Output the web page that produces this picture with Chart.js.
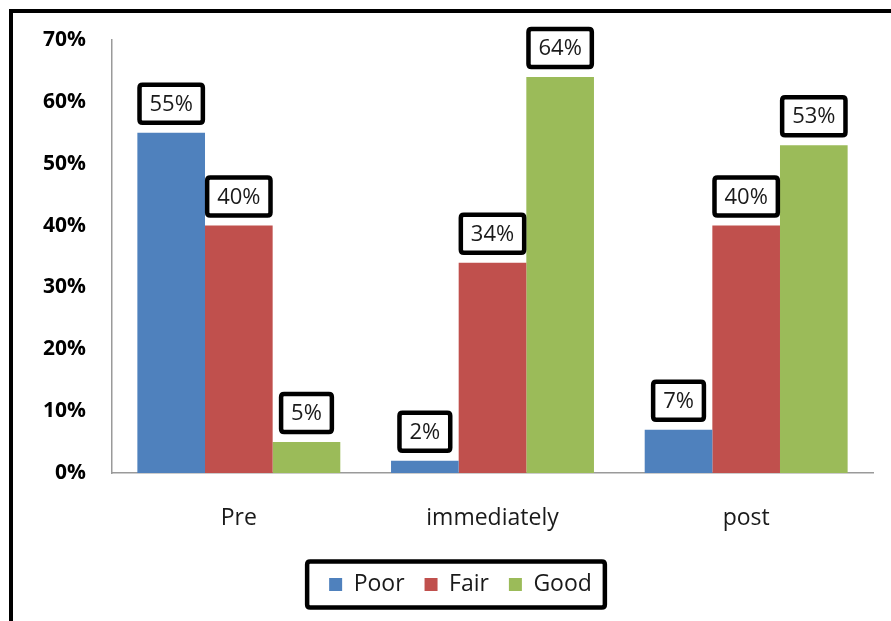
<!DOCTYPE html>
<html>
<head>
<meta charset="utf-8">
<script src="https://cdn.jsdelivr.net/npm/chart.js@4/dist/chart.umd.min.js"></script>
<style>
  html, body { margin: 0; padding: 0; background: #fff; }
  #wrap { width: 891px; height: 621px; position: relative; }
</style>
</head>
<body>
<div id="wrap"><canvas id="c" width="891" height="621"></canvas></div>
<script>
// Share of ratings per assessment time
const categories = ['Pre', 'immediately', 'post'];
const poor = [55, 2, 7];
const fair = [40, 34, 40];
const good = [5, 64, 53];
const seriesNames = ['Poor', 'Fair', 'Good'];
const yTicks = [0, 10, 20, 30, 40, 50, 60, 70];

const colors = ['#4F81BD', '#C0504D', '#9BBB59'];
const FONT = '"Open Sans", "DejaVu Sans", sans-serif';

function roundRect(ctx, x, y, w, h, r) {
  ctx.beginPath();
  ctx.moveTo(x + r, y);
  ctx.lineTo(x + w - r, y);
  ctx.quadraticCurveTo(x + w, y, x + w, y + r);
  ctx.lineTo(x + w, y + h - r);
  ctx.quadraticCurveTo(x + w, y + h, x + w - r, y + h);
  ctx.lineTo(x + r, y + h);
  ctx.quadraticCurveTo(x, y + h, x, y + h - r);
  ctx.lineTo(x, y + r);
  ctx.quadraticCurveTo(x, y, x + r, y);
  ctx.closePath();
}

// Outer frame (top and left edges)
const framePlugin = {
  id: 'frame',
  beforeDraw(chart) {
    const ctx = chart.ctx;
    ctx.save();
    ctx.fillStyle = '#fff';
    ctx.fillRect(0, 0, chart.width, chart.height);
    ctx.fillStyle = '#000';
    ctx.fillRect(9, 9, chart.width - 9, 4);
    ctx.fillRect(9, 9, 4, chart.height - 9);
    ctx.restore();
  }
};

// Nudge the legend a little to the right of the canvas centre
const legendShiftPlugin = {
  id: 'legendShift',
  afterLayout(chart) {
    const lg = chart.legend;
    if (!lg) return;
    lg.left += 24;
    lg.right += 24;
  }
};

// Boxed value labels above every bar
const valueBoxPlugin = {
  id: 'valueBoxes',
  afterDatasetsDraw(chart) {
    const ctx = chart.ctx;
    ctx.save();
    ctx.font = '22px ' + FONT;
    ctx.textAlign = 'center';
    ctx.textBaseline = 'middle';
    chart.data.datasets.forEach((ds, di) => {
      const meta = chart.getDatasetMeta(di);
      meta.data.forEach((bar, i) => {
        const txt = ds.data[i] + '%';
        const w = ctx.measureText(txt).width + 24;
        const h = 42;
        const bottom = bar.y - 8;
        const x = bar.x - w / 2;
        const y = bottom - h;
        roundRect(ctx, x + 2, y + 2, w - 4, h - 4, 3);
        ctx.fillStyle = '#fff';
        ctx.fill();
        ctx.lineWidth = 4.5;
        ctx.strokeStyle = '#000';
        ctx.stroke();
        ctx.fillStyle = '#1a1a1a';
        ctx.fillText(txt, bar.x, y + h / 2 + 1);
      });
    });
    ctx.restore();
  }
};

// Frame around the legend
const legendFramePlugin = {
  id: 'legendFrame',
  afterDraw(chart) {
    const lg = chart.legend;
    if (!lg || !lg.legendHitBoxes || !lg.legendHitBoxes.length) return;
    const hb = lg.legendHitBoxes;
    const first = hb[0], last = hb[hb.length - 1];
    const left = first.left - 24;
    const right = last.left + last.width + 15;
    const cy = first.top + first.height / 2;
    const ctx = chart.ctx;
    ctx.save();
    roundRect(ctx, left + 2, cy - 25 + 2, right - left - 4, 50 - 4, 3);
    ctx.lineWidth = 4.5;
    ctx.strokeStyle = '#000';
    ctx.stroke();
    ctx.restore();
  }
};

const datasets = [poor, fair, good].map((vals, k) => ({
  label: seriesNames[k],
  data: vals,
  backgroundColor: colors[k],
  borderWidth: 0,
  categoryPercentage: 0.8,
  barPercentage: 1.0
}));

new Chart(document.getElementById('c'), {
  type: 'bar',
  data: { labels: categories, datasets },
  plugins: [framePlugin, legendShiftPlugin, valueBoxPlugin, legendFramePlugin],
  options: {
    responsive: false,
    animation: false,
    devicePixelRatio: 1,
    layout: { padding: { top: 40, right: 18, bottom: 15, left: 0 } },
    plugins: {
      tooltip: { enabled: false },
      legend: {
        position: 'bottom',
        labels: {
          boxWidth: 13,
          boxHeight: 13,
          padding: 20,
          color: '#1a1a1a',
          font: { family: FONT, size: 23 }
        }
      }
    },
    scales: {
      x: {
        grid: { display: false, drawTicks: false },
        border: { display: true, color: '#9a9a9a', width: 1.5 },
        ticks: {
          color: '#1a1a1a',
          padding: 32,
          font: { family: FONT, size: 23 }
        },
        afterFit(scale) { scale.height = 80; }
      },
      y: {
        min: 0,
        max: 70,
        afterBuildTicks(scale) { scale.ticks = yTicks.map(v => ({ value: v })); },
        grid: { display: false, drawTicks: false },
        border: { display: true, color: '#9a9a9a', width: 1.5 },
        ticks: {
          color: '#000',
          padding: 26,
          font: { family: FONT, size: 21, weight: 'bold' },
          callback: v => v + '%'
        },
        afterFit(scale) { scale.width = 112; }
      }
    }
  }
});
</script>
</body>
</html>
